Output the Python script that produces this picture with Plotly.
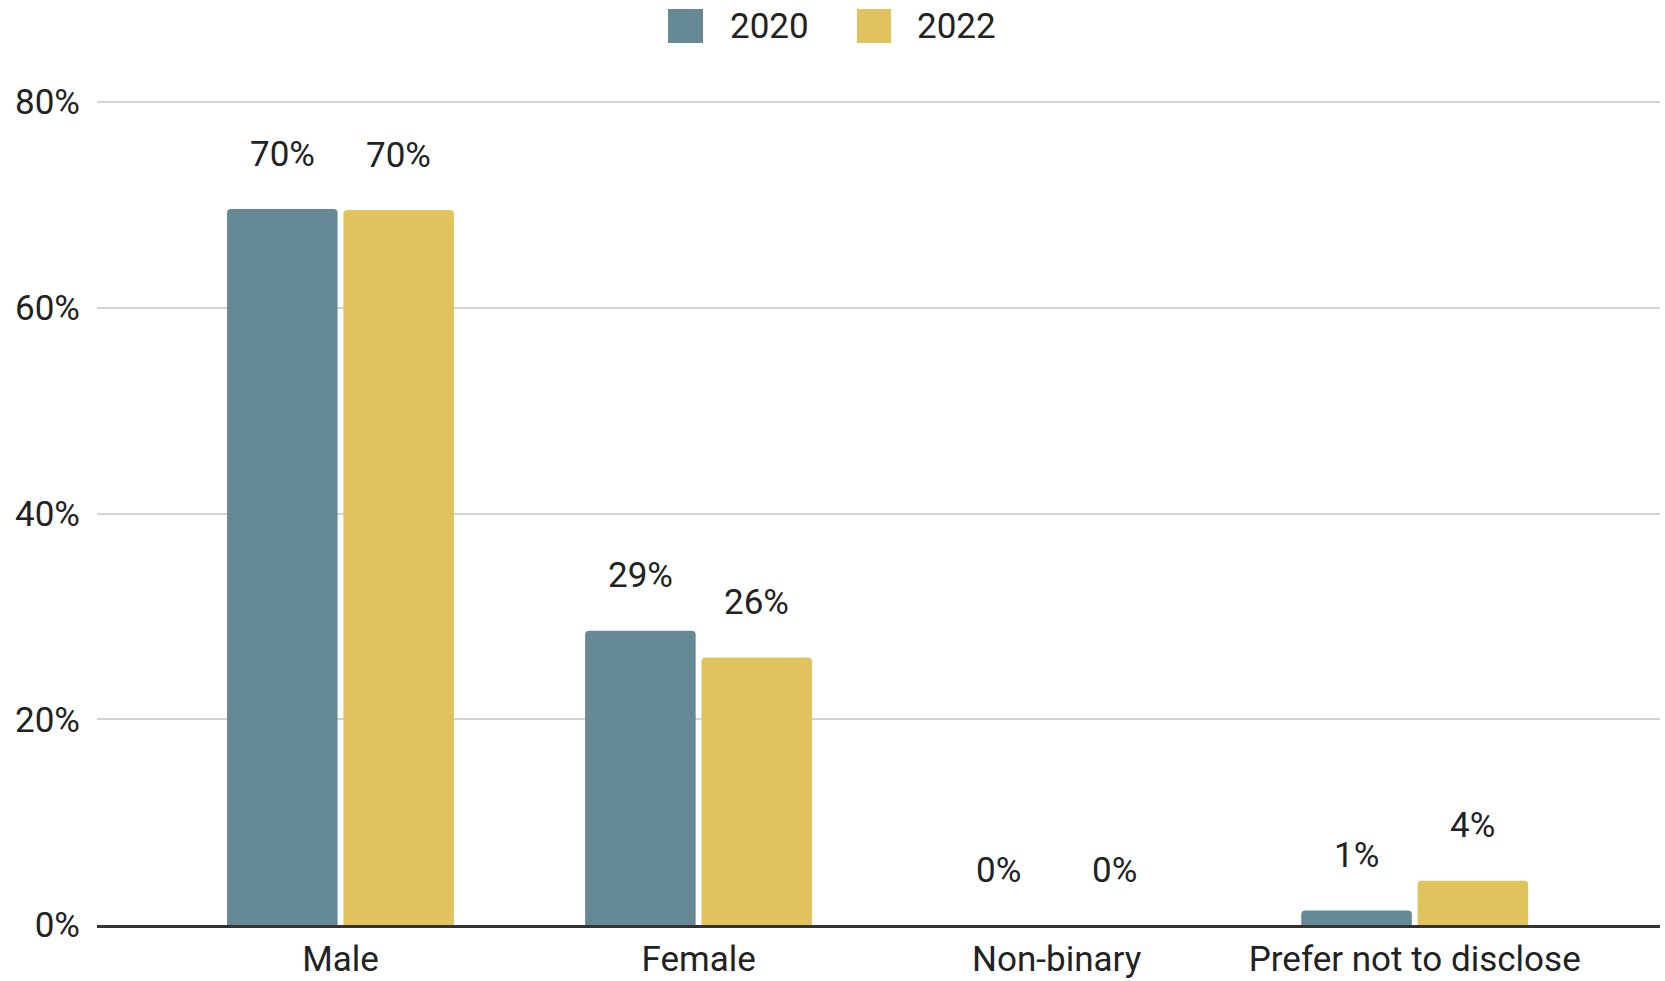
import plotly.graph_objects as go

# ---- data ----
categories = ["Male", "Female", "Non-binary", "Prefer not to disclose"]
series_names = ["2020", "2022"]
values_2020 = [69.6, 28.6, 0.0, 1.4]
values_2022 = [69.5, 26.0, 0.0, 4.3]
y_tick_values = [0, 20, 40, 60, 80]
y_tick_labels = ["0%", "20%", "40%", "60%", "80%"]

series_values = [values_2020, values_2022]
colors = ["#668a95", "#e0c35c"]

# ---- layout constants ----
W, H = 1665, 981
L, R, T, B = 97, 5, 100, 56
X_RANGE = [-0.68, 3.685]
Y_RANGE = [0, 80.2]
BARGAP = 0.35
BARGROUPGAP = 0.05
FONT = "Roboto, Arial, sans-serif"
TXT = "#222222"
FS = 35

plot_w = W - L - R
plot_h = H - T - B


def px_x(px):
    return (px - L) / plot_w


def px_y(py):
    return (H - B - py) / plot_h


fig = go.Figure()
for name, vals, col in zip(series_names, series_values, colors):
    fig.add_trace(go.Bar(
        x=categories, y=vals, name=name,
        marker=dict(color=col, line=dict(width=0), cornerradius=4),
        showlegend=False, hoverinfo="x+y+name",
    ))

# value labels above bars
px_per_cat = plot_w / (X_RANGE[1] - X_RANGE[0])
slot = px_per_cat * (1 - BARGAP) / len(series_names)
annotations = []
for i, vals in enumerate(series_values):
    shift = (i - (len(series_names) - 1) / 2) * slot
    for cat, v in zip(categories, vals):
        annotations.append(dict(
            x=cat, y=v, xref="x", yref="y", text=f"{round(v)}%",
            showarrow=False, xshift=shift, yshift=55, yanchor="middle",
            font=dict(family=FONT, size=FS, color=TXT),
        ))

# custom legend (large square swatches)
legend_items = [(668, 703, 728), (857, 891, 915)]
shapes = []
for (x0, x1, tx), name, col in zip(legend_items, series_names, colors):
    shapes.append(dict(type="rect", xref="paper", yref="paper",
                       x0=px_x(x0), x1=px_x(x1), y0=px_y(43), y1=px_y(9),
                       fillcolor=col, line=dict(width=0)))
    annotations.append(dict(x=px_x(tx), y=px_y(26), xref="paper", yref="paper",
                            text=name, showarrow=False, xanchor="left", yanchor="middle",
                            font=dict(family=FONT, size=FS, color=TXT)))

fig.update_layout(
    width=W, height=H,
    margin=dict(l=L, r=R, t=T, b=B, pad=0, autoexpand=False),
    paper_bgcolor="white", plot_bgcolor="white",
    barmode="group", bargap=BARGAP, bargroupgap=BARGROUPGAP,
    font=dict(family=FONT, size=FS, color=TXT),
    annotations=annotations, shapes=shapes,
    showlegend=False,
    xaxis=dict(
        type="category", range=X_RANGE, showgrid=False, zeroline=False,
        showline=True, linecolor="#333333", linewidth=2.5, automargin=False,
        ticks="", tickfont=dict(family=FONT, size=FS, color=TXT),
        ticklabelstandoff=1,
    ),
    yaxis=dict(
        range=Y_RANGE, tickmode="array", tickvals=y_tick_values, ticktext=y_tick_labels,
        showgrid=True, gridcolor="#d3d3d3", gridwidth=1.5, zeroline=False, automargin=False,
        showline=False, ticks="", tickfont=dict(family=FONT, size=FS, color=TXT),
        ticklabelstandoff=16,
    ),
)

fig.write_html("out.html", config={"displayModeBar": False},
               post_script="document.body.style.margin='0';document.body.style.overflow='hidden';")
